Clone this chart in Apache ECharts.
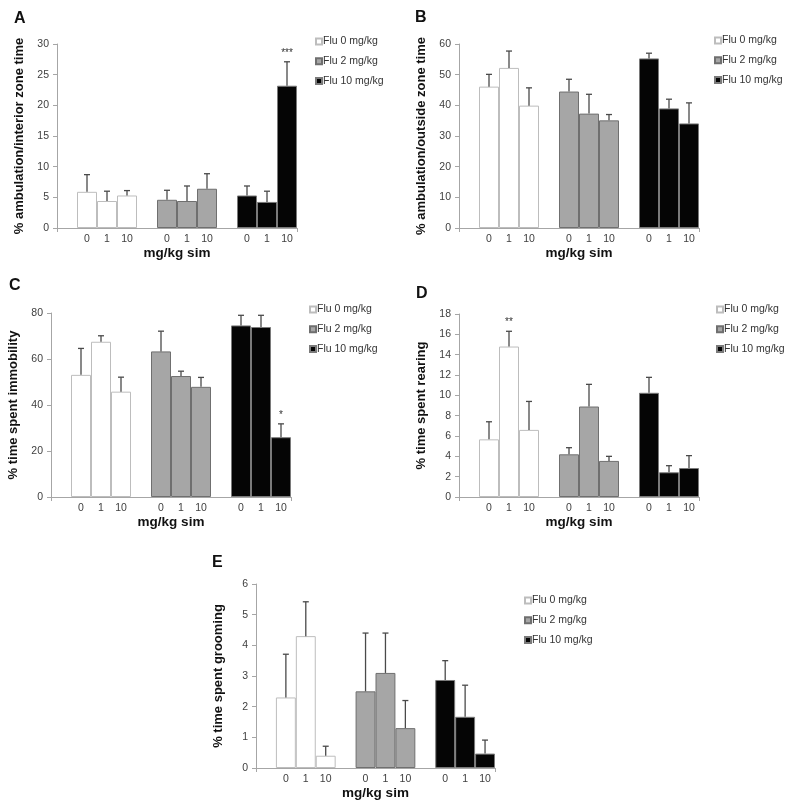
<!DOCTYPE html>
<html>
<head>
<meta charset="utf-8">
<script src="https://cdn.jsdelivr.net/npm/echarts@6/dist/echarts.min.js"></script>
<style>
html,body{margin:0;padding:0;background:#fff;}
#chart{width:793px;height:809px;}
</style>
</head>
<body>
<div id="chart"></div>
<script>
// ---- data ----
const simDoses = ['0', '1', '10'];
const fluGroups = ['Flu 0 mg/kg', 'Flu 2 mg/kg', 'Flu 10 mg/kg'];
const xTitle = 'mg/kg sim';

// order: Flu0 (sim 0,1,10), Flu2 (sim 0,1,10), Flu10 (sim 0,1,10)
const aMeans = [5.9, 4.4, 5.3, 4.6, 4.4, 6.4, 5.3, 4.25, 23.2];
const aErrs  = [2.8, 1.6, 0.8, 1.55, 2.45, 2.45, 1.55, 1.75, 3.9];
const aSig   = ['', '', '', '', '', '', '', '', '***'];

const bMeans = [46.1, 52.2, 39.9, 44.5, 37.3, 35.1, 55.3, 39.0, 34.1];
const bErrs  = [4.0, 5.5, 5.8, 4.0, 6.3, 1.9, 1.7, 3.0, 6.7];
const bSig   = ['', '', '', '', '', '', '', '', ''];

const cMeans = [53.1, 67.5, 45.8, 63.3, 52.6, 47.9, 74.6, 73.9, 26.0];
const cErrs  = [11.5, 2.6, 6.3, 8.8, 2.1, 4.1, 4.4, 5.1, 5.8];
const cSig   = ['', '', '', '', '', '', '', '', '*'];

const dMeans = [5.67, 14.8, 6.6, 4.2, 8.9, 3.55, 10.25, 2.43, 2.85];
const dErrs  = [1.73, 1.5, 2.8, 0.65, 2.18, 0.45, 1.52, 0.65, 1.22];
const dSig   = ['', '**', '', '', '', '', '', '', ''];

const eMeans = [2.3, 4.3, 0.4, 2.5, 3.1, 1.3, 2.87, 1.67, 0.47];
const eErrs  = [1.41, 1.12, 0.31, 1.9, 1.3, 0.9, 0.63, 1.03, 0.44];
const eSig   = ['', '', '', '', '', '', '', '', ''];

const yTitles = [
  '% ambulation/interior zone time',
  '% ambulation/outside zone time',
  '% time spent immobility',
  '% time spent rearing',
  '% time spent grooming'
];
const yMax = [30, 60, 80, 18, 6];
const yStep = [5, 10, 20, 2, 1];
const panelLetters = ['A', 'B', 'C', 'D', 'E'];

// ---- build ----
const FONT = "'Liberation Sans', Arial, sans-serif";
const panelMeans = [aMeans, bMeans, cMeans, dMeans, eMeans];
const panelErrs = [aErrs, bErrs, cErrs, dErrs, eErrs];
const panelSig = [aSig, bSig, cSig, dSig, eSig];

// layout (pixels)
const grids = [
  {left: 57, top: 44, width: 240, height: 184},
  {left: 459, top: 44, width: 240, height: 184},
  {left: 51, top: 313, width: 240, height: 184},
  {left: 459, top: 314, width: 240, height: 183},
  {left: 256, top: 584, width: 239, height: 184}
];
const legendPos = [
  {left: 315, top: 36},
  {left: 714, top: 35},
  {left: 309, top: 304},
  {left: 716, top: 304},
  {left: 524, top: 595}
];
const letterPos = [
  {left: 14, top: 11},
  {left: 415, top: 10},
  {left: 9, top: 278},
  {left: 416, top: 286},
  {left: 212, top: 555}
];
const barStyles = [
  {color: '#ffffff', borderColor: '#bdbdbd', borderWidth: 1},
  {color: '#a6a6a6', borderColor: '#6f6f6f', borderWidth: 1},
  {color: '#050505', borderColor: '#7a7a7a', borderWidth: 1}
];

// category slots: an empty slot before each group of three
const slotLabels = [];
fluGroups.forEach(() => { slotLabels.push(''); simDoses.forEach(d => slotLabels.push(d)); });
const slotOf = (g, d) => g * (simDoses.length + 1) + 1 + d;

const option = {
  animation: false,
  backgroundColor: '#fff',
  textStyle: {fontFamily: FONT},
  title: [], grid: [], xAxis: [], yAxis: [], legend: [], series: []
};

for (let p = 0; p < 5; p++) {
  const g = grids[p];
  option.grid.push(Object.assign({containLabel: false}, g));
  option.title.push({
    text: panelLetters[p], left: letterPos[p].left, top: letterPos[p].top, padding: 0,
    textStyle: {fontSize: 16, fontWeight: 'bold', color: '#111', fontFamily: FONT}
  });
  option.xAxis.push({
    type: 'category', gridIndex: p, data: slotLabels,
    boundaryGap: true,
    name: xTitle, nameLocation: 'middle', nameGap: 18,
    nameTextStyle: {fontSize: 13.5, fontWeight: 'bold', color: '#111', fontFamily: FONT},
    axisLine: {lineStyle: {color: '#a6a6a6', width: 1}},
    axisTick: {show: true, length: 4, lineStyle: {color: '#a6a6a6'},
      interval: (i) => i === 0},
    axisLabel: {interval: 0, fontSize: 10.5, color: '#404040', margin: 6, fontFamily: FONT},
    splitLine: {show: false}
  });
  option.yAxis.push({
    type: 'value', gridIndex: p, min: 0, max: yMax[p], interval: yStep[p],
    name: yTitles[p], nameLocation: 'middle', nameGap: 31,
    nameTextStyle: {fontSize: 13, fontWeight: 'bold', color: '#111', fontFamily: FONT},
    axisLine: {show: true, lineStyle: {color: '#a6a6a6', width: 1}},
    axisTick: {show: true, length: 4, lineStyle: {color: '#a6a6a6'}},
    axisLabel: {fontSize: 10.5, color: '#404040', margin: 8, fontFamily: FONT},
    splitLine: {show: false}
  });
  option.legend.push({
    orient: 'vertical', left: legendPos[p].left, top: legendPos[p].top,
    data: fluGroups, icon: 'rect', itemWidth: 6, itemHeight: 6, itemGap: 8.7,
    selectedMode: false, padding: 0,
    textStyle: {fontSize: 10.5, color: '#333', fontFamily: FONT, padding: [0, 0, 0, -4]}
  });
  const means = panelMeans[p], errs = panelErrs[p], sig = panelSig[p];
  fluGroups.forEach((name, gi) => {
    const data = slotLabels.map(() => null);
    simDoses.forEach((d, di) => { data[slotOf(gi, di)] = means[gi * simDoses.length + di]; });
    option.series.push({
      type: 'bar', name: name, xAxisIndex: p, yAxisIndex: p,
      data: data, barGap: '-100%', barCategoryGap: '0%',
      itemStyle: barStyles[gi], z: 2
    });
  });
  const errData = [];
  fluGroups.forEach((name, gi) => {
    simDoses.forEach((d, di) => {
      const k = gi * simDoses.length + di;
      errData.push([slotOf(gi, di), means[k], means[k] + errs[k], sig[k]]);
    });
  });
  option.series.push({
    type: 'custom', xAxisIndex: p, yAxisIndex: p, z: 5,
    data: errData,
    encode: {x: 0, y: [1, 2]},
    renderItem: function (params, api) {
      const x = api.value(0);
      const base = api.coord([x, api.value(1)]);
      const top = api.coord([x, api.value(2)]);
      const s = errData[params.dataIndex][3];
      const children = [
        {type: 'line', shape: {x1: base[0], y1: base[1], x2: top[0], y2: top[1]},
          style: {stroke: '#4a4a4a', lineWidth: 1.3}},
        {type: 'line', shape: {x1: top[0] - 3, y1: top[1], x2: top[0] + 3, y2: top[1]},
          style: {stroke: '#4a4a4a', lineWidth: 1.3}}
      ];
      if (s) {
        children.push({type: 'text', x: top[0], y: top[1] - 9,
          style: {text: s, fill: '#333', fontSize: 10, fontFamily: FONT,
            align: 'center', verticalAlign: 'middle'}});
      }
      return {type: 'group', children: children};
    }
  });
}

const chart = echarts.init(document.getElementById('chart'), null, {renderer: 'canvas'});
chart.setOption(option);
</script>
</body>
</html>
